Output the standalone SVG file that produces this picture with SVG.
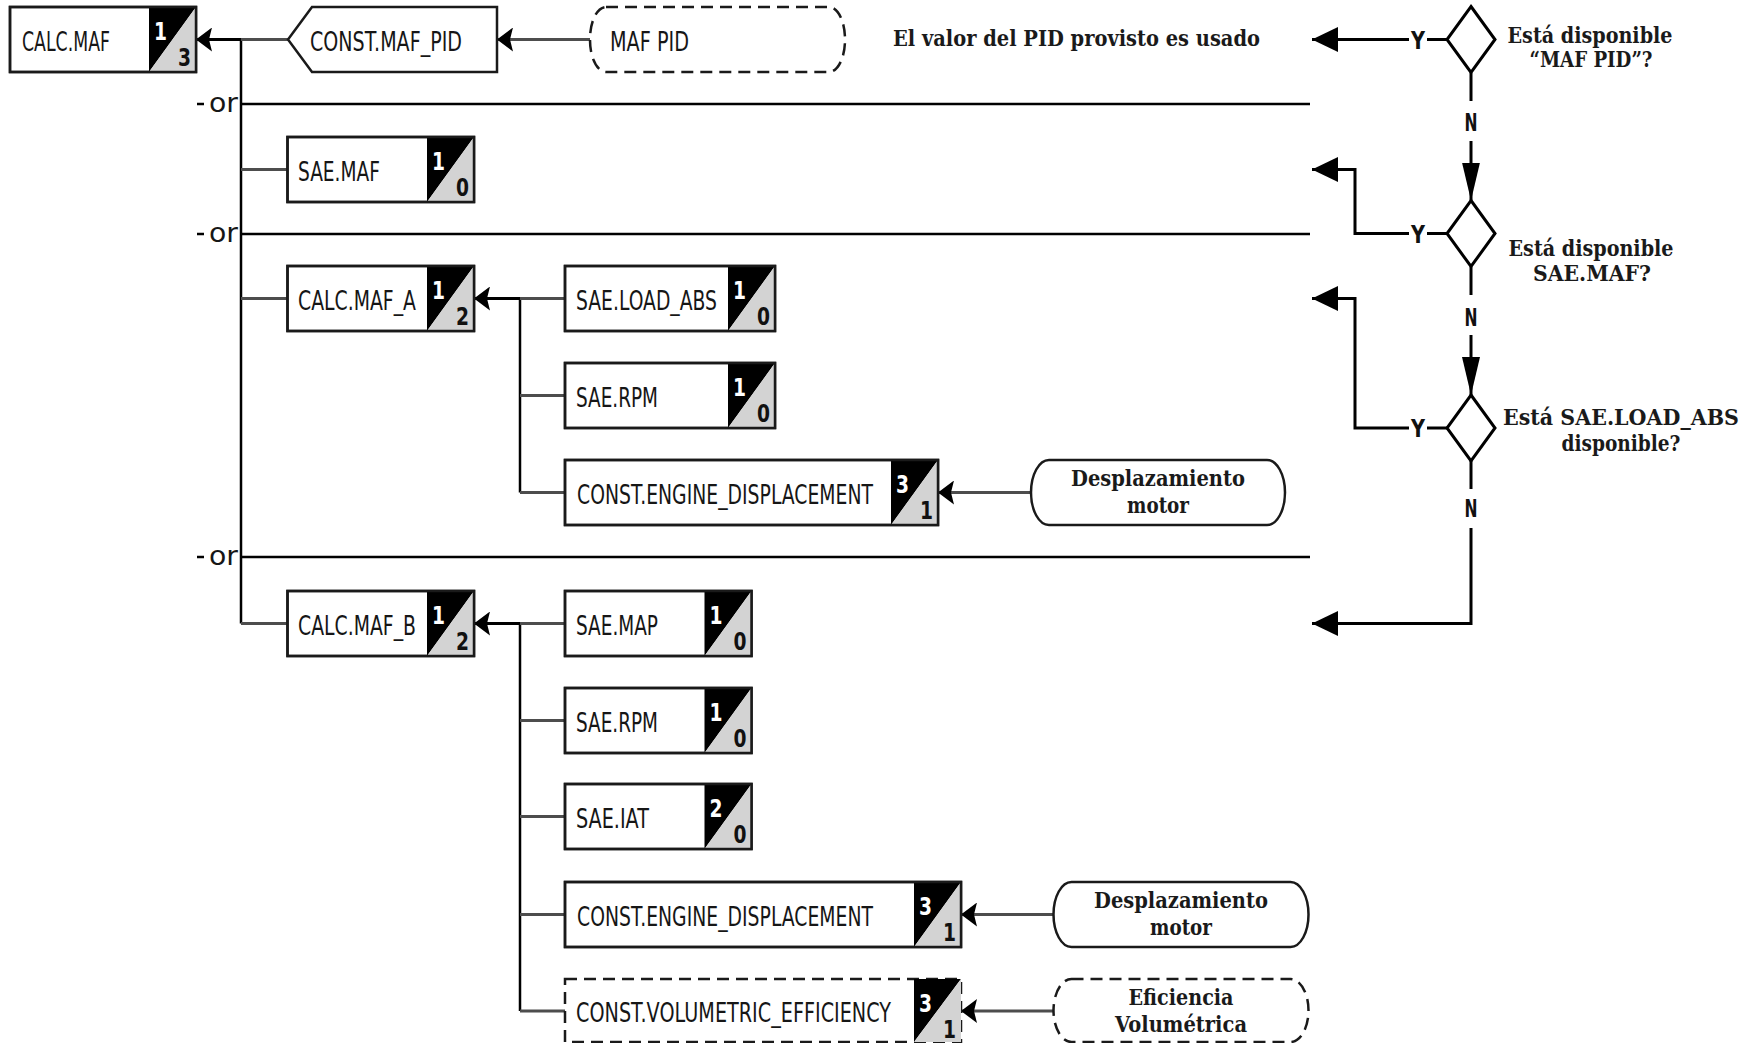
<svg xmlns="http://www.w3.org/2000/svg" width="1761" height="1043" viewBox="0 0 1761 1043">
<style>
.bg{fill:#fff}
.box{fill:#fff;stroke:#1a1a1a;stroke-width:2.5}
.ol{fill:none;stroke:#1a1a1a;stroke-width:2.5}
.dash{stroke-dasharray:12 7}
.bk{fill:#000}
.gr{fill:#d3d3d3}
.lbl{font-family:"DejaVu Sans","Liberation Sans",sans-serif;font-size:27px;fill:#161616}
.nt{font-family:"DejaVu Sans","Liberation Sans",sans-serif;font-weight:bold;font-size:25px;fill:#fff}
.nb{font-family:"DejaVu Sans","Liberation Sans",sans-serif;font-weight:bold;font-size:25px;fill:#111;text-anchor:end}
.ser{font-family:"DejaVu Serif","Liberation Serif",serif;font-weight:bold;font-size:23px;fill:#1a1a1a}
.c{text-anchor:middle}
.yn{font-family:"DejaVu Sans","Liberation Sans",sans-serif;font-weight:bold;font-size:25px;fill:#111;text-anchor:middle}
.or{font-family:"DejaVu Sans","Liberation Sans",sans-serif;font-size:26px;fill:#161616}
.ln{fill:none;stroke:#000;stroke-width:2.5}
.gl{fill:none;stroke:#4d4d4d;stroke-width:3}
.fl{fill:none;stroke:#000;stroke-width:3}
.dm{fill:#fff;stroke:#000;stroke-width:3}
</style>
<defs>
<marker id="as" markerUnits="userSpaceOnUse" markerWidth="17" markerHeight="24" viewBox="0 0 17 24" refX="16" refY="12" orient="auto">
<path d="M0,0 L16,12 L0,24 L3,12 z" fill="#000"/>
</marker>
<marker id="ab" markerUnits="userSpaceOnUse" markerWidth="27" markerHeight="25" viewBox="0 0 27 25" refX="26" refY="12.5" orient="auto">
<path d="M0,0 L26,12.5 L0,25 z" fill="#000"/>
</marker>
<marker id="ad" markerUnits="userSpaceOnUse" markerWidth="39" markerHeight="18" viewBox="0 0 39 18" refX="38" refY="9" orient="auto">
<path d="M0,0 L38,9 L0,18 z" fill="#000"/>
</marker>
</defs>
<rect class="bg" x="0" y="0" width="1761" height="1043"/>

<g id="connectors">
<path class="ln" d="M197,104 H204 M240,104 H1310"/>
<path class="ln" d="M197,234 H204 M240,234 H1310"/>
<path class="ln" d="M197,557 H204 M240,557 H1310"/>
<path class="ln" d="M241,39.5 V623.5"/>
<path class="fl" d="M241,39.5 H196" marker-end="url(#as)"/>
<path class="gl" d="M288,39.5 H241"/>
<path class="gl" d="M241,169.5 H287.5"/>
<path class="gl" d="M241,298.5 H287.5"/>
<path class="gl" d="M241,623.5 H287.5"/>
<path class="gl" d="M590,39.5 H497" marker-end="url(#as)"/>
<path class="ln" d="M520,298.5 V492.5"/>
<path class="fl" d="M520,298.5 H474" marker-end="url(#as)"/>
<path class="gl" d="M565,298.5 H520"/>
<path class="gl" d="M520,395.5 H565"/>
<path class="gl" d="M520,492.5 H565"/>
<path class="gl" d="M1031,492.5 H938" marker-end="url(#as)"/>
<path class="ln" d="M520,623.5 V1011"/>
<path class="fl" d="M520,623.5 H474" marker-end="url(#as)"/>
<path class="gl" d="M565,623.5 H520"/>
<path class="gl" d="M520,720.5 H565"/>
<path class="gl" d="M520,816.5 H565"/>
<path class="gl" d="M520,914.5 H565"/>
<path class="gl" d="M520,1011 H565"/>
<path class="gl" d="M1053.5,914.5 H961" marker-end="url(#as)"/>
<path class="gl" d="M1053.5,1011 H961" marker-end="url(#as)"/>
<path class="fl" d="M1409,39.5 H1312" marker-end="url(#ab)"/>
<path class="fl" d="M1447,39.5 H1427"/>
<path class="fl" d="M1471,72.5 V101"/>
<path class="fl" d="M1471,141 V200.5" marker-end="url(#ad)"/>
<path class="fl" d="M1447,233.5 H1427"/>
<path class="fl" d="M1409,233.5 H1355 V169.5 H1312" marker-end="url(#ab)"/>
<path class="fl" d="M1471,266.5 V295"/>
<path class="fl" d="M1471,335 V395" marker-end="url(#ad)"/>
<path class="fl" d="M1447,428 H1427"/>
<path class="fl" d="M1409,428 H1355 V298.5 H1312" marker-end="url(#ab)"/>
<path class="fl" d="M1471,461 V489"/>
<path class="fl" d="M1471,528 V623.5 H1312" marker-end="url(#ab)"/>
<text class="yn" x="1418" y="48.5" textLength="14" lengthAdjust="spacingAndGlyphs">Y</text>
<text class="yn" x="1418" y="242.5" textLength="14" lengthAdjust="spacingAndGlyphs">Y</text>
<text class="yn" x="1418" y="437" textLength="14" lengthAdjust="spacingAndGlyphs">Y</text>
<text class="yn" x="1471" y="131" textLength="13" lengthAdjust="spacingAndGlyphs">N</text>
<text class="yn" x="1471" y="326" textLength="13" lengthAdjust="spacingAndGlyphs">N</text>
<text class="yn" x="1471" y="517" textLength="13" lengthAdjust="spacingAndGlyphs">N</text>
<text class="or" x="209" y="112" textLength="29" lengthAdjust="spacingAndGlyphs">or</text>
<text class="or" x="209" y="242" textLength="29" lengthAdjust="spacingAndGlyphs">or</text>
<text class="or" x="209" y="565" textLength="29" lengthAdjust="spacingAndGlyphs">or</text>
</g>

<g id="calc-maf">
<rect class="box" x="10" y="7" width="186" height="65"/>
<polygon class="bk" points="149,7 196,7 149,72"/><polygon class="gr" points="196,7 196,72 149,72"/>
<rect class="ol" x="10" y="7" width="186" height="65"/>
<text class="lbl" x="22" y="50.5" textLength="88" lengthAdjust="spacingAndGlyphs">CALC.MAF</text>
<text class="nt" x="154" y="40" textLength="13" lengthAdjust="spacingAndGlyphs">1</text>
<text class="nb" x="191" y="66" textLength="13" lengthAdjust="spacingAndGlyphs">3</text>
</g>

<g id="const-maf-pid">
<polygon class="box" points="288,39.5 312,7 497,7 497,72 312,72"/>
<text class="lbl" x="310" y="50.5" textLength="152" lengthAdjust="spacingAndGlyphs">CONST.MAF_PID</text>
</g>

<g id="maf-pid">
<rect class="box dash" x="590" y="7" width="255" height="65" rx="16" ry="32"/>
<text class="lbl" x="610" y="50.5" textLength="79" lengthAdjust="spacingAndGlyphs">MAF PID</text>
</g>

<g id="note-pid">
<text class="ser" x="893" y="46" font-size="25" textLength="367" lengthAdjust="spacingAndGlyphs">El valor del PID provisto es usado</text>
</g>

<g id="dec-maf-pid">
<polygon class="dm" points="1471,6.5 1495,39.5 1471,72.5 1447,39.5"/>
<text class="ser c" x="1590" y="43" textLength="165" lengthAdjust="spacingAndGlyphs">Está disponible</text>
<text class="ser c" x="1591" y="67" textLength="123" lengthAdjust="spacingAndGlyphs">“MAF PID”?</text>
</g>

<g id="dec-sae-maf">
<polygon class="dm" points="1471,200.5 1495,233.5 1471,266.5 1447,233.5"/>
<text class="ser c" x="1591" y="256" textLength="165" lengthAdjust="spacingAndGlyphs">Está disponible</text>
<text class="ser c" x="1592" y="281" textLength="118" lengthAdjust="spacingAndGlyphs">SAE.MAF?</text>
</g>

<g id="dec-load-abs">
<polygon class="dm" points="1471,395 1495,428 1471,461 1447,428"/>
<text class="ser c" x="1621" y="425" textLength="236" lengthAdjust="spacingAndGlyphs">Está SAE.LOAD_ABS</text>
<text class="ser c" x="1621" y="451" textLength="119" lengthAdjust="spacingAndGlyphs">disponible?</text>
</g>

<g id="sae-maf">
<rect class="box" x="287.5" y="137" width="186.5" height="65"/>
<polygon class="bk" points="427,137 474,137 427,202"/><polygon class="gr" points="474,137 474,202 427,202"/>
<rect class="ol" x="287.5" y="137" width="186.5" height="65"/>
<text class="lbl" x="298" y="180.5" textLength="82" lengthAdjust="spacingAndGlyphs">SAE.MAF</text>
<text class="nt" x="432" y="170" textLength="13" lengthAdjust="spacingAndGlyphs">1</text>
<text class="nb" x="469" y="196" textLength="13" lengthAdjust="spacingAndGlyphs">0</text>
</g>

<g id="calc-maf-a">
<rect class="box" x="287.5" y="266" width="186.5" height="65"/>
<polygon class="bk" points="427,266 474,266 427,331"/><polygon class="gr" points="474,266 474,331 427,331"/>
<rect class="ol" x="287.5" y="266" width="186.5" height="65"/>
<text class="lbl" x="298" y="309.5" textLength="118" lengthAdjust="spacingAndGlyphs">CALC.MAF_A</text>
<text class="nt" x="432" y="299" textLength="13" lengthAdjust="spacingAndGlyphs">1</text>
<text class="nb" x="469" y="325" textLength="13" lengthAdjust="spacingAndGlyphs">2</text>
</g>

<g id="sae-load-abs">
<rect class="box" x="565" y="266" width="210" height="65"/>
<polygon class="bk" points="728,266 775,266 728,331"/><polygon class="gr" points="775,266 775,331 728,331"/>
<rect class="ol" x="565" y="266" width="210" height="65"/>
<text class="lbl" x="576" y="309.5" textLength="141" lengthAdjust="spacingAndGlyphs">SAE.LOAD_ABS</text>
<text class="nt" x="733" y="299" textLength="13" lengthAdjust="spacingAndGlyphs">1</text>
<text class="nb" x="770" y="325" textLength="13" lengthAdjust="spacingAndGlyphs">0</text>
</g>

<g id="sae-rpm-a">
<rect class="box" x="565" y="363" width="210" height="65"/>
<polygon class="bk" points="728,363 775,363 728,428"/><polygon class="gr" points="775,363 775,428 728,428"/>
<rect class="ol" x="565" y="363" width="210" height="65"/>
<text class="lbl" x="576" y="406.5" textLength="82" lengthAdjust="spacingAndGlyphs">SAE.RPM</text>
<text class="nt" x="733" y="396" textLength="13" lengthAdjust="spacingAndGlyphs">1</text>
<text class="nb" x="770" y="422" textLength="13" lengthAdjust="spacingAndGlyphs">0</text>
</g>

<g id="const-engine-displacement-a">
<rect class="box" x="565" y="460" width="373" height="65"/>
<polygon class="bk" points="891,460 938,460 891,525"/><polygon class="gr" points="938,460 938,525 891,525"/>
<rect class="ol" x="565" y="460" width="373" height="65"/>
<text class="lbl" x="577" y="503.5" textLength="296" lengthAdjust="spacingAndGlyphs">CONST.ENGINE_DISPLACEMENT</text>
<text class="nt" x="896" y="493" textLength="13" lengthAdjust="spacingAndGlyphs">3</text>
<text class="nb" x="933" y="519" textLength="13" lengthAdjust="spacingAndGlyphs">1</text>
</g>

<g id="desplazamiento-a">
<rect class="box" x="1031" y="460" width="254" height="65" rx="18" ry="32.5"/>
<text class="ser c" x="1158" y="486" textLength="174" lengthAdjust="spacingAndGlyphs">Desplazamiento</text>
<text class="ser c" x="1158" y="513" textLength="62" lengthAdjust="spacingAndGlyphs">motor</text>
</g>

<g id="calc-maf-b">
<rect class="box" x="287.5" y="591" width="186.5" height="65"/>
<polygon class="bk" points="427,591 474,591 427,656"/><polygon class="gr" points="474,591 474,656 427,656"/>
<rect class="ol" x="287.5" y="591" width="186.5" height="65"/>
<text class="lbl" x="298" y="634.5" textLength="118" lengthAdjust="spacingAndGlyphs">CALC.MAF_B</text>
<text class="nt" x="432" y="624" textLength="13" lengthAdjust="spacingAndGlyphs">1</text>
<text class="nb" x="469" y="650" textLength="13" lengthAdjust="spacingAndGlyphs">2</text>
</g>

<g id="sae-map">
<rect class="box" x="565" y="591" width="186.5" height="65"/>
<polygon class="bk" points="704.5,591 751.5,591 704.5,656"/><polygon class="gr" points="751.5,591 751.5,656 704.5,656"/>
<rect class="ol" x="565" y="591" width="186.5" height="65"/>
<text class="lbl" x="576" y="634.5" textLength="82" lengthAdjust="spacingAndGlyphs">SAE.MAP</text>
<text class="nt" x="709.5" y="624" textLength="13" lengthAdjust="spacingAndGlyphs">1</text>
<text class="nb" x="746.5" y="650" textLength="13" lengthAdjust="spacingAndGlyphs">0</text>
</g>

<g id="sae-rpm-b">
<rect class="box" x="565" y="688" width="186.5" height="65"/>
<polygon class="bk" points="704.5,688 751.5,688 704.5,753"/><polygon class="gr" points="751.5,688 751.5,753 704.5,753"/>
<rect class="ol" x="565" y="688" width="186.5" height="65"/>
<text class="lbl" x="576" y="731.5" textLength="82" lengthAdjust="spacingAndGlyphs">SAE.RPM</text>
<text class="nt" x="709.5" y="721" textLength="13" lengthAdjust="spacingAndGlyphs">1</text>
<text class="nb" x="746.5" y="747" textLength="13" lengthAdjust="spacingAndGlyphs">0</text>
</g>

<g id="sae-iat">
<rect class="box" x="565" y="784" width="186.5" height="65"/>
<polygon class="bk" points="704.5,784 751.5,784 704.5,849"/><polygon class="gr" points="751.5,784 751.5,849 704.5,849"/>
<rect class="ol" x="565" y="784" width="186.5" height="65"/>
<text class="lbl" x="576" y="827.5" textLength="73" lengthAdjust="spacingAndGlyphs">SAE.IAT</text>
<text class="nt" x="709.5" y="817" textLength="13" lengthAdjust="spacingAndGlyphs">2</text>
<text class="nb" x="746.5" y="843" textLength="13" lengthAdjust="spacingAndGlyphs">0</text>
</g>

<g id="const-engine-displacement-b">
<rect class="box" x="565" y="882" width="396" height="65"/>
<polygon class="bk" points="914,882 961,882 914,947"/><polygon class="gr" points="961,882 961,947 914,947"/>
<rect class="ol" x="565" y="882" width="396" height="65"/>
<text class="lbl" x="577" y="925.5" textLength="296" lengthAdjust="spacingAndGlyphs">CONST.ENGINE_DISPLACEMENT</text>
<text class="nt" x="919" y="915" textLength="13" lengthAdjust="spacingAndGlyphs">3</text>
<text class="nb" x="956" y="941" textLength="13" lengthAdjust="spacingAndGlyphs">1</text>
</g>

<g id="desplazamiento-b">
<rect class="box" x="1053.5" y="882" width="255" height="65" rx="18" ry="32.5"/>
<text class="ser c" x="1181" y="908" textLength="174" lengthAdjust="spacingAndGlyphs">Desplazamiento</text>
<text class="ser c" x="1181" y="935" textLength="62" lengthAdjust="spacingAndGlyphs">motor</text>
</g>

<g id="const-volumetric-efficiency">
<rect class="box dash" x="565" y="979" width="396" height="63"/>
<polygon class="bk" points="914,979 961,979 914,1042"/><polygon class="gr" points="961,979 961,1042 914,1042"/>
<text class="lbl" x="576" y="1022" textLength="315" lengthAdjust="spacingAndGlyphs">CONST.VOLUMETRIC_EFFICIENCY</text>
<text class="nt" x="919" y="1012" textLength="13" lengthAdjust="spacingAndGlyphs">3</text>
<text class="nb" x="956" y="1038" textLength="13" lengthAdjust="spacingAndGlyphs">1</text>
</g>

<g id="eficiencia-volumetrica">
<rect class="box dash" x="1053.5" y="979" width="255" height="63" rx="18" ry="31.5"/>
<text class="ser c" x="1181" y="1005" textLength="105" lengthAdjust="spacingAndGlyphs">Eficiencia</text>
<text class="ser c" x="1181" y="1032" textLength="132" lengthAdjust="spacingAndGlyphs">Volumétrica</text>
</g>
</svg>
